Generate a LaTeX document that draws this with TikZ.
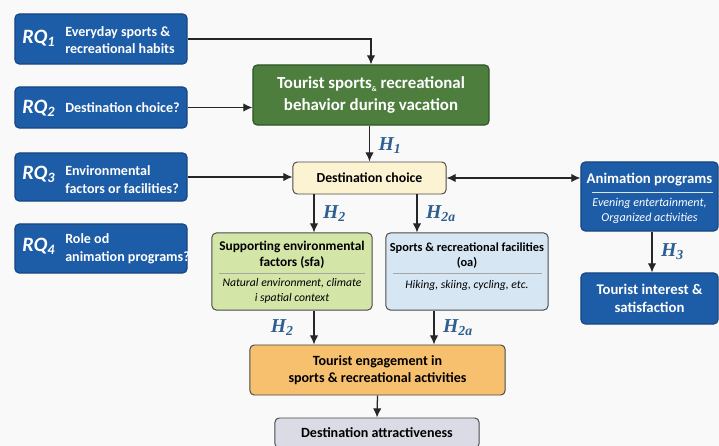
\documentclass[tikz,border=0pt]{standalone}
\usepackage{fontspec}
\setmainfont{Carlito}
\newfontfamily\labfont{Liberation Serif}
\usetikzlibrary{arrows.meta}

\definecolor{bg}{HTML}{F9F9F9}
\definecolor{rqblue}{HTML}{1D5CA6}
\definecolor{rqedge}{HTML}{17467F}
\definecolor{behgreen}{HTML}{4D7E3E}
\definecolor{behedge}{HTML}{2F5528}
\definecolor{cream}{HTML}{FCF3D3}
\definecolor{sfagreen}{HTML}{D4E5A8}
\definecolor{oablue}{HTML}{D6E6F3}
\definecolor{engorange}{HTML}{F7C06E}
\definecolor{attrgray}{HTML}{DADBE4}
\definecolor{edge}{HTML}{4A4A4A}
\definecolor{hcol}{HTML}{2D5F90}

\newcommand{\hyp}[1]{{\labfont\bfseries\itshape H\textsubscript{#1}}}

\tikzset{
    rqbox/.style={rectangle,rounded corners=3pt,draw=rqedge,fill=rqblue,line width=0.8pt,minimum width=4.3cm,inner sep=0pt},
    lightbox/.style={rectangle,rounded corners=3pt,draw=edge,fill=#1,line width=0.7pt,inner sep=0pt},
    rqlab/.style={anchor=west,text=white,font=\bfseries\itshape\fontsize{14.5}{14.5}\selectfont,inner sep=0pt},
    rqtxt/.style={anchor=west,align=left,text=white,font=\bfseries\fontsize{10}{12.6}\selectfont,inner sep=0pt},
    title/.style={align=center,font=\bfseries\fontsize{9.5}{11}\selectfont,inner sep=0pt},
    sub/.style={align=center,font=\itshape\fontsize{8.3}{10.2}\selectfont,inner sep=0pt},
    hlab/.style={text=hcol,font=\fontsize{14}{14}\selectfont,inner sep=0pt},
    arr/.style={-{Latex[length=6.5pt,width=6pt]},line width=0.9pt,draw=black!85},
    sepline/.style={line width=0.5pt,draw=#1}
}

\begin{document}
\begin{tikzpicture}[x=0.025cm,y=-0.025cm]
        \path [use as bounding box,fill=bg] (0,0) rectangle (719,446);

        % research questions
        \draw (101,39) node (rq1) [rqbox,minimum height=1.25cm] {};
        \draw (101,107.5) node (rq2) [rqbox,minimum height=1.025cm] {};
        \draw (101,177) node (rq3) [rqbox,minimum height=1.2cm] {};
        \draw (101,248.5) node (rq4) [rqbox,minimum height=1.225cm] {};
        \draw (22,38) node (rq1l) [rqlab] {RQ\textsubscript{1}};
        \draw (22,108) node (rq2l) [rqlab] {RQ\textsubscript{2}};
        \draw (22,174) node (rq3l) [rqlab] {RQ\textsubscript{3}};
        \draw (22,246) node (rq4l) [rqlab] {RQ\textsubscript{4}};
        \draw (65,40) node (rq1t) [rqtxt] {Everyday sports \&\\recreational habits};
        \draw (65,108) node (rq2t) [rqtxt] {Destination choice?};
        \draw (65,179.5) node (rq3t) [rqtxt] {Environmental\\factors or facilities?};
        \draw (65,248.5) node (rq4t) [rqtxt] {Role od\\animation programs?};

        % model boxes
        \draw (371,95) node (beh) [rectangle,rounded corners=3pt,draw=behedge,fill=behgreen,line width=0.8pt,minimum width=5.9cm,minimum height=1.5cm,align=center,text=white,font=\bfseries\fontsize{12}{15.6}\selectfont] {Tourist sports\raisebox{-0.4ex}{\fontsize{5}{5}\selectfont\&} recreational\\behavior during vacation};
        \draw (369.5,178) node (dest) [lightbox=cream,minimum width=3.825cm,minimum height=0.8cm,font=\bfseries\fontsize{9.8}{11}\selectfont] {Destination choice};
        \draw (292,271.5) node (sfa) [lightbox=sfagreen,minimum width=4cm,minimum height=1.925cm] {};
        \draw (467,271.5) node (oa) [lightbox=oablue,minimum width=4.05cm,minimum height=1.925cm] {};
        \draw (649.5,196.5) node (anim) [rqbox,minimum width=3.425cm,minimum height=1.725cm] {};
        \draw (649.5,298.5) node (intr) [rqbox,minimum width=3.425cm,minimum height=1.275cm,align=center,text=white,font=\bfseries\fontsize{10.5}{12.8}\selectfont] {Tourist interest \&\\satisfaction};
        \draw (377.5,370) node (eng) [lightbox=engorange,minimum width=6.375cm,minimum height=1.25cm,align=center,font=\bfseries\fontsize{10}{12.2}\selectfont] {Tourist engagement in\\sports \& recreational activities};
        \draw (377,433) node (attr) [lightbox=attrgray,minimum width=5.1cm,minimum height=0.75cm,font=\bfseries\fontsize{10}{12}\selectfont] {Destination attractiveness};

        % box contents
        \draw (292,255) node (sfat) [title] {Supporting environmental\\factors (sfa)};
        \draw (292,291) node (sfas) [sub] {Natural environment, climate\\i spatial context};
        \draw (467,255.5) node (oat) [title,font=\bfseries\fontsize{8.8}{10.6}\selectfont] {Sports \& recreational facilities\\(oa)};
        \draw (467,285) node (oas) [sub] {Hiking, skiing, cycling, etc.};
        \draw (649.5,180) node (animt) [title,text=white,font=\bfseries\fontsize{10.5}{12}\selectfont] {Animation programs};
        \draw (649.5,210.5) node (anims) [sub,text=white,font=\itshape\fontsize{8.6}{10.6}\selectfont] {Evening entertainment,\\Organized activities};
        \draw [sepline=black!35] (219,273) -- (365,273);
        \draw [sepline=black!35] (393,273) -- (542,273);
        \draw [sepline=oablue] (592,192) -- (713,192);

        % column positions
        \coordinate (xa) at (314,0);
        \coordinate (xb) at (417,0);
        \coordinate (xc) at (434,0);

        % connectors
        \draw [arr] (rq1.east) -| (beh.north);
        \draw [arr] (rq2.east) -- (rq2.east -| beh.west);
        \draw [arr] (rq3.east) -- (rq3.east -| dest.west);
        \draw [arr] (beh.south -| dest.north) to node [hlab,right=6pt,pos=0.55] {\hyp{1}} (dest.north);
        \draw [{Latex[length=6.5pt,width=6pt]}-{Latex[length=6.5pt,width=6pt]},line width=0.9pt,draw=black!85] (dest.east) -- (dest.east -| anim.west);
        \draw [arr] (dest.south -| xa) to node [hlab,right=6pt] {\hyp{2}} (xa |- sfa.north);
        \draw [arr] (dest.south -| xb) to node [hlab,right=6pt] {\hyp{2a}} (xb |- oa.north);
        \draw [arr] (anim.south -| 652,0) to node [hlab,right=6pt] {\hyp{3}} (652,0 |- intr.north);
        \draw [arr] (sfa.south -| xa) to node [hlab,left=14pt] {\hyp{2}} (xa |- eng.north);
        \draw [arr] (oa.south -| xc) to node [hlab,right=6pt] {\hyp{2a}} (xc |- eng.north);
        \draw [arr] (eng.south) -- (attr.north);
    \end{tikzpicture}
\end{document}
